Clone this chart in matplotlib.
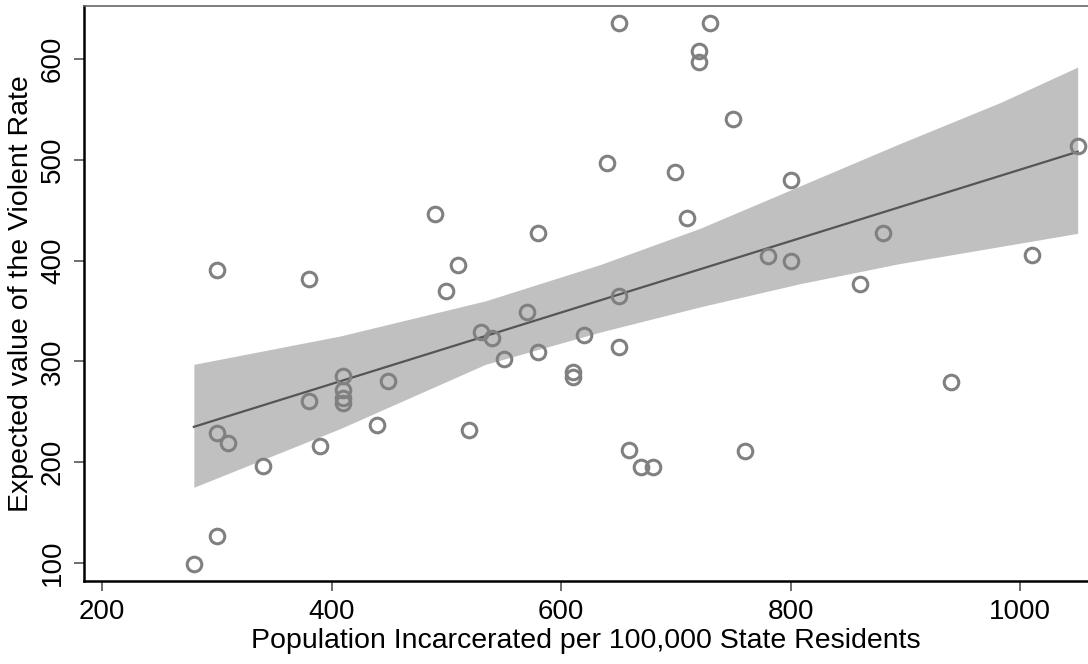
import numpy as np
import matplotlib
matplotlib.use('Agg')
import matplotlib.pyplot as plt

plt.rcParams['font.family'] = ['Liberation Sans', 'DejaVu Sans']

# observed states: incarceration rate vs violent crime rate
incarc = [280, 300, 300, 310, 300, 340, 380, 380, 390,
          410, 410, 410, 410, 449, 440, 490, 500, 510, 520,
          530, 540, 550, 570, 580, 580, 610, 610, 620, 640,
          650, 650, 650, 659, 670, 680, 699, 710, 720, 720,
          730, 750, 760, 780, 800, 800, 860, 880, 940, 1010, 1050]
violent = [99, 127, 229, 219, 391, 196, 261, 382, 216,
           285, 272, 264, 259, 280, 237, 446, 370, 396, 232,
           329, 323, 302, 349, 427, 309, 289, 284, 326, 497,
           636, 365, 314, 212, 195, 195, 488, 442, 608, 597,
           636, 540, 211, 405, 480, 400, 377, 427, 279, 406, 514]

# fitted line and confidence band
fit_x = [280, 1050]
fit_y = [235, 508]
band_x = [280, 407, 534, 634, 721, 808, 895, 983, 1050]
band_hi = [297, 325, 360, 396, 432, 474, 516, 557, 592]
band_lo = [175, 233, 297, 329, 354, 377, 397, 414, 427]

fig = plt.figure(figsize=(10.88, 6.64), dpi=100)
ax = fig.add_axes([84 / 1088, 83 / 664, 1 - 84 / 1088, 575 / 664])

ax.fill_between(band_x, band_lo, band_hi, color='#c0c0c0', linewidth=0, zorder=1)
ax.plot(fit_x, fit_y, color='#555555', linewidth=1.6, zorder=2)
ax.plot(incarc, violent, linestyle='none', marker='o', markersize=10.5,
        markerfacecolor='none', markeredgecolor='#808080', markeredgewidth=2.2, zorder=3)

ax.set_xlim(184.3, 1059)
ax.set_ylim(82, 652.6)
ax.set_xticks([200, 400, 600, 800, 1000])
ax.set_yticks([100, 200, 300, 400, 500, 600])

ax.spines['right'].set_visible(False)
ax.spines['top'].set_color('#666666')
ax.spines['top'].set_linewidth(1.2)
ax.spines['left'].set_linewidth(1.8)
ax.spines['bottom'].set_linewidth(1.8)

ax.tick_params(axis='both', direction='out', length=7, width=1.2,
               color='#555555', labelsize=20)
ax.tick_params(axis='x', pad=6)
ax.tick_params(axis='y', pad=6)
for lab in ax.get_yticklabels():
    lab.set_rotation(90)
    lab.set_va('center')

ax.set_xlabel('Population Incarcerated per 100,000 State Residents', fontsize=20.5, labelpad=2)
ax.set_ylabel('Expected value of the Violent Rate', fontsize=20.5, labelpad=4)

fig.savefig('out.png', dpi=100)
